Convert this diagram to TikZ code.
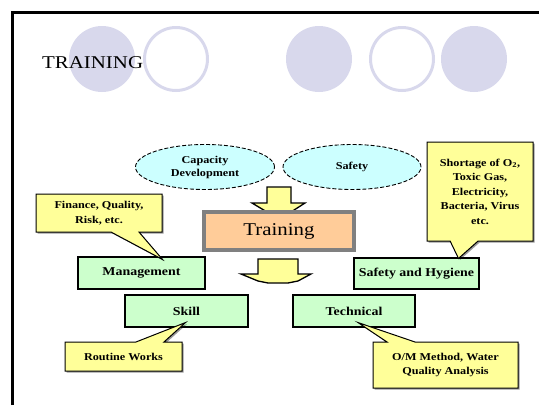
\documentclass[tikz,border=0pt]{standalone}
\usepackage{fontspec}
\setmainfont{Liberation Serif}[FakeStretch=1.16]
\usepackage{tikz}
\usetikzlibrary{shapes.geometric,shapes.callouts,shadows,calc}
\definecolor{dotlilac}{RGB}{216,216,236}
\definecolor{ovalcyan}{RGB}{204,255,255}
\definecolor{noteyellow}{RGB}{255,255,153}
\definecolor{areagreen}{RGB}{204,255,204}
\definecolor{trainorange}{RGB}{255,204,153}
\definecolor{rimgray}{RGB}{128,128,128}

\tikzset{
  oval/.style={ellipse, draw, line width=.9pt, dash pattern=on 4pt off 2pt, fill=ovalcyan, minimum width=139pt, minimum height=45pt, align=center, font=\fontsize{10.5}{13}\selectfont\bfseries},
  area/.style={draw, line width=1.1pt, fill=areagreen, minimum height=31pt, font=\fontsize{12}{14}\selectfont\bfseries, drop shadow={shadow xshift=1.2pt, shadow yshift=-1.2pt, fill=black, opacity=.45}},
  note/.style={rectangle callout, draw, line width=1pt, fill=noteyellow, align=center, callout pointer width=28pt, font=\fontsize{10.5}{14.5}\selectfont\bfseries, drop shadow={shadow xshift=1.5pt, shadow yshift=-1.5pt, fill=black, opacity=.4}},
  blockarrow/.style={draw, line width=1.3pt, fill=noteyellow},
}

\begin{document}
\begin{tikzpicture}[x=1pt, y=-1pt]
  \useasboundingbox (0,0) rectangle (539,405);
  \draw[line width=3pt] (12,405) -- (12,12) -- (539,12);

  % row of dots along the top
  \foreach \cx in {102,319,474}
    \fill[dotlilac] (\cx,59) circle (33);
  \foreach \cx in {176,402}
    \draw[dotlilac, line width=3pt] (\cx,59) circle (31.5);
  \node[anchor=base west, inner sep=0, font=\fontsize{18}{20}\selectfont] (title) at (42,68) {TRAINING};

  \node[oval] (capdev) at (205,167) {Capacity\\Development};
  \node[oval, minimum width=138pt] (safe) at (352,167) {Safety};

  \draw[blockarrow] (267,187) -- (291,187) -- (291,203) -- (305,203) -- (291,212) -- (267,212) -- (252,203) -- (267,203) -- cycle;
  \draw[blockarrow] (258,259) -- (298,259) -- (298,274) -- (311,274) -- (298,281) -- (288,283) -- (268,283) -- (258,281) -- (241,274) -- (258,274) -- cycle;

  \node[draw=rimgray, line width=4pt, fill=trainorange, minimum width=150pt, minimum height=38pt, font=\fontsize{18}{20}\selectfont] (train) at (279,231) {Training};

  \node[area, minimum width=127pt, minimum height=32pt] (mgmt) at (141.5,273) {Management};
  \node[area, minimum width=125pt] (hyg) at (416.5,273.5) {Safety and Hygiene};
  \node[area, minimum width=123pt, minimum height=32pt] (skill) at (186.5,311) {Skill};
  \node[area, minimum width=122pt, minimum height=32pt] (tech) at (354,311) {Technical};

  \node[note, minimum width=126pt, minimum height=38pt, callout absolute pointer={($(mgmt.north)+(21,3)$)}] (money) at (99,213) {Finance, Quality,\\Risk, etc.};
  \node[note, minimum width=106pt, minimum height=99pt, callout absolute pointer={($(hyg.north)+(42,1)$)}] (hazard) at (480,191.5) {Shortage of O\textsubscript{2},\\Toxic Gas,\\Electricity,\\Bacteria, Virus\\etc.};
  \node[note, minimum width=117pt, minimum height=29pt, callout absolute pointer={($(skill.south)+(-1,-5)$)}] (routine) at (123.5,356.5) {Routine Works};
  \node[note, minimum width=145pt, minimum height=46pt, callout absolute pointer={($(tech.south)+(4,-5)$)}] (method) at (445.5,365) {O/M Method, Water\\Quality Analysis};
\end{tikzpicture}
\end{document}
